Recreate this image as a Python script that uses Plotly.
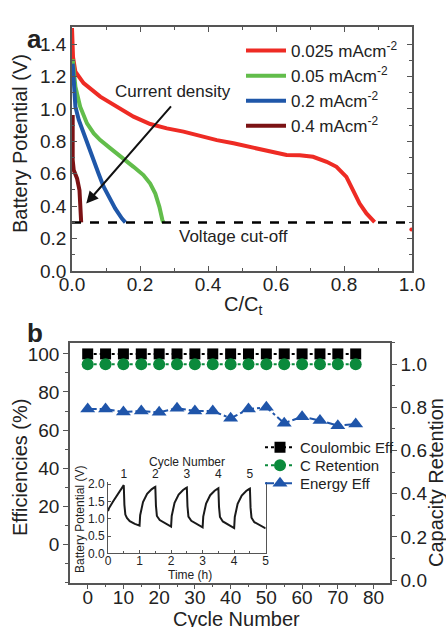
import plotly.graph_objects as go

FONT = "Liberation Sans, Arial, sans-serif"

# ---------------- Panel a data ----------------
red_x = [0.0, 0.003, 0.01, 0.034, 0.083, 0.132, 0.181, 0.23, 0.279, 0.328, 0.377, 0.426, 0.475, 0.524, 0.572, 0.621, 0.631, 0.670, 0.709, 0.749, 0.778, 0.807, 0.827, 0.846, 0.866, 0.890]
red_y = [1.50, 1.32, 1.23, 1.16, 1.076, 1.014, 0.953, 0.907, 0.880, 0.860, 0.833, 0.808, 0.788, 0.767, 0.746, 0.726, 0.716, 0.715, 0.705, 0.674, 0.643, 0.581, 0.499, 0.416, 0.355, 0.302]
red_tail_x = [0.998]
red_tail_y = [0.256]

green_x = [0.002, 0.01, 0.024, 0.044, 0.064, 0.083, 0.113, 0.142, 0.181, 0.21, 0.23, 0.245, 0.257, 0.266, 0.269]
green_y = [1.307, 1.138, 1.014, 0.911, 0.849, 0.808, 0.757, 0.705, 0.643, 0.592, 0.540, 0.478, 0.396, 0.313, 0.300]

blue_x = [0.002, 0.005, 0.01, 0.02, 0.034, 0.049, 0.064, 0.078, 0.093, 0.108, 0.127, 0.147, 0.157]
blue_y = [1.28, 1.138, 1.014, 0.932, 0.849, 0.767, 0.685, 0.602, 0.520, 0.458, 0.386, 0.324, 0.300]

dred_x = [0.002, 0.002, 0.005, 0.015, 0.022, 0.026, 0.027]
dred_y = [0.963, 0.685, 0.623, 0.571, 0.499, 0.396, 0.300]

cutoff_x = [0.0, 1.0]
cutoff_y = [0.3, 0.3]

legend_a = ["0.025 mAcm<sup>-2</sup>", "0.05 mAcm<sup>-2</sup>", "0.2 mAcm<sup>-2</sup>", "0.4 mAcm<sup>-2</sup>"]

# ---------------- Panel b data ----------------
cycles = [0, 5, 10, 15, 20, 25, 30, 35, 40, 45, 50, 55, 60, 65, 70, 75]
coulombic = [100, 100, 100, 100, 100, 100, 100, 100, 100, 100, 100, 100, 100, 100, 100, 100]
c_retention = [1.0, 1.0, 1.0, 1.0, 1.0, 1.0, 1.0, 1.0, 1.0, 1.0, 1.0, 1.0, 1.0, 1.0, 1.0, 1.0]
energy_eff = [71.0, 71.0, 69.5, 70.0, 69.3, 71.5, 70.0, 70.0, 66.2, 71.0, 72.0, 63.6, 67.0, 65.0, 62.3, 63.2]

# Inset data (time in h, potential in V)
inset_t = [0.0, 0.03, 0.16, 0.29, 0.42, 0.48, 0.50, 0.52, 0.55, 0.60, 0.69, 0.85, 0.98,
           1.0, 1.02, 1.11, 1.24, 1.38, 1.48, 1.50, 1.52, 1.55, 1.64, 1.85, 1.98,
           2.0, 2.02, 2.11, 2.24, 2.38, 2.48, 2.50, 2.52, 2.55, 2.64, 2.85, 2.98,
           3.0, 3.02, 3.11, 3.24, 3.38, 3.48, 3.50, 3.52, 3.55, 3.64, 3.85, 3.98,
           4.0, 4.02, 4.11, 4.24, 4.38, 4.48, 4.50, 4.52, 4.55, 4.64, 4.85, 5.0]
inset_v = [1.22, 1.30, 1.50, 1.68, 1.85, 1.93, 1.97, 1.40, 1.12, 1.02, 0.93, 0.85, 0.80,
           0.80, 1.10, 1.48, 1.72, 1.85, 1.91, 1.92, 1.38, 1.08, 0.96, 0.84, 0.77,
           0.77, 1.08, 1.46, 1.70, 1.83, 1.89, 1.90, 1.36, 1.06, 0.94, 0.82, 0.75,
           0.75, 1.06, 1.44, 1.68, 1.81, 1.87, 1.88, 1.34, 1.05, 0.92, 0.80, 0.73,
           0.73, 1.05, 1.43, 1.67, 1.80, 1.86, 1.87, 1.32, 1.03, 0.90, 0.79, 0.72]
inset_top_ticks = [0.5, 1.5, 2.5, 3.5, 4.5]
inset_top_labels = ["1", "2", "3", "4", "5"]

W, H = 446, 627

def px_x(p):
    return p / W

def px_y(p):
    return 1 - p / H

fig = go.Figure()

# Panel a traces
line_w = 4
fig.add_trace(go.Scatter(x=red_x, y=red_y, mode="lines", line=dict(color="#ee2b24", width=line_w),
                         name=legend_a[0], xaxis="x", yaxis="y", legend="legend"))
fig.add_trace(go.Scatter(x=green_x, y=green_y, mode="lines", line=dict(color="#62bd4b", width=line_w),
                         name=legend_a[1], xaxis="x", yaxis="y", legend="legend"))
fig.add_trace(go.Scatter(x=blue_x, y=blue_y, mode="lines", line=dict(color="#1f57a9", width=line_w),
                         name=legend_a[2], xaxis="x", yaxis="y", legend="legend"))
fig.add_trace(go.Scatter(x=dred_x, y=dred_y, mode="lines", line=dict(color="#7b1214", width=line_w),
                         name=legend_a[3], xaxis="x", yaxis="y", legend="legend"))
fig.add_trace(go.Scatter(x=red_tail_x, y=red_tail_y, mode="markers", marker=dict(color="#ee2b24", size=4),
                         showlegend=False, xaxis="x", yaxis="y", cliponaxis=False))
fig.add_trace(go.Scatter(x=cutoff_x, y=cutoff_y, mode="lines", line=dict(color="black", width=2.5, dash="dash"),
                         showlegend=False, xaxis="x", yaxis="y"))

# Panel b traces
fig.add_trace(go.Scatter(x=cycles, y=coulombic, mode="lines+markers", name="Coulombic Eff",
                         line=dict(color="black", width=2, dash="dot"),
                         marker=dict(symbol="square", size=11, color="black"),
                         xaxis="x2", yaxis="y2", legend="legend2", cliponaxis=False))
fig.add_trace(go.Scatter(x=cycles, y=c_retention, mode="lines+markers", name="C Retention",
                         line=dict(color="#0b8a3c", width=2, dash="dot"),
                         marker=dict(symbol="circle", size=12, color="#0b8a3c"),
                         xaxis="x2", yaxis="y3", legend="legend3", cliponaxis=False))
fig.add_trace(go.Scatter(x=cycles, y=energy_eff, mode="lines+markers", name="Energy Eff",
                         line=dict(color="#1f55aa", width=2, dash="dashdot"),
                         marker=dict(symbol="triangle-up", size=13, color="#1f55aa"),
                         xaxis="x2", yaxis="y2", legend="legend4", cliponaxis=False))

# Inset traces
fig.add_trace(go.Scatter(x=inset_t, y=inset_v, mode="lines", line=dict(color="#1a1a1a", width=2),
                         showlegend=False, xaxis="x3", yaxis="y4"))
fig.add_trace(go.Scatter(x=[inset_top_ticks[0]], y=[None], mode="markers", showlegend=False,
                         hoverinfo="skip", xaxis="x4", yaxis="y4"))

tickfont = dict(family=FONT, size=19, color="#222")
TITLE_SIZE = 20
small = dict(family=FONT, size=12, color="#222")

axis_common = dict(showline=True, linecolor="#555", linewidth=1.5, showgrid=False, zeroline=False,
                   tickcolor="#555", ticklen=5, tickwidth=1.2, automargin=False)

def leg(x, y, size, iw=30):
    return dict(x=px_x(x), y=px_y(y), xanchor="left", yanchor="top",
                font=dict(family=FONT, size=size, color="#222"), bgcolor="rgba(0,0,0,0)",
                itemwidth=iw, tracegroupgap=0)

def title_ann(text, x, y, size, angle=0):
    return dict(text=text, x=px_x(x), y=px_y(y), xref="paper", yref="paper", showarrow=False,
                textangle=angle, xanchor="center", yanchor="middle",
                font=dict(family=FONT, size=size, color="#222"))

fig.update_layout(
    width=W, height=H,
    margin=dict(l=0, r=0, t=0, b=0),
    paper_bgcolor="white", plot_bgcolor="white",
    font=dict(family=FONT, color="#222"),
    xaxis=dict(domain=[px_x(72), px_x(412)], range=[0, 1.0], anchor="y",
               tickvals=[0, 0.2, 0.4, 0.6, 0.8, 1.0], ticktext=["0.0", "0.2", "0.4", "0.6", "0.8", "1.0"],
               ticks="inside", mirror="ticks", minor=dict(dtick=0.1, ticks="inside", ticklen=3, tickcolor="#555"),
               tickfont=tickfont, ticklabelstandoff=-5, **axis_common),
    yaxis=dict(domain=[px_y(271), px_y(27)], range=[0, 1.506], anchor="x",
               tickvals=[0, 0.2, 0.4, 0.6, 0.8, 1.0, 1.2, 1.4],
               ticktext=["0.0", "0.2", "0.4", "0.6", "0.8", "1.0", "1.2", "1.4"],
               ticks="inside", mirror="ticks", minor=dict(dtick=0.1, ticks="inside", ticklen=3, tickcolor="#555"),
               tickfont=tickfont, **axis_common),
    xaxis2=dict(domain=[px_x(70), px_x(390)], range=[-4.95, 84.6], anchor="y2",
                tickvals=[0, 10, 20, 30, 40, 50, 60, 70, 80],
                ticks="outside", mirror=True, minor=dict(dtick=5, ticks="outside", ticklen=3, tickcolor="#555"),
                tickfont=tickfont, ticklabelstandoff=-8, **axis_common),
    yaxis2=dict(domain=[px_y(582.7), px_y(342.7)], range=[-20.2, 105.9], anchor="x2",
                tickvals=[0, 20, 40, 60, 80, 100],
                ticks="outside", minor=dict(dtick=10, ticks="outside", ticklen=3, tickcolor="#555"),
                tickfont=tickfont, **axis_common),
    yaxis3=dict(range=[-0.0125, 1.1], overlaying="y2", side="right", anchor="x2",
                tickvals=[0, 0.2, 0.4, 0.6, 0.8, 1.0], ticktext=["0.0", "0.2", "0.4", "0.6", "0.8", "1.0"],
                ticks="outside", minor=dict(dtick=0.1, ticks="outside", ticklen=3, tickcolor="#555"),
                tickfont=tickfont, **axis_common),
    xaxis3=dict(domain=[px_x(108), px_x(265.7)], range=[0, 5], anchor="y4",
                tickvals=[0, 1, 2, 3, 4, 5], ticks="inside", ticklen=3,
                minor=dict(dtick=0.5, ticks="inside", ticklen=2, tickcolor="#555"),
                tickfont=small, ticklabelstandoff=-4,
                showline=True, linecolor="#555", linewidth=1, showgrid=False, zeroline=False,
                tickcolor="#555", automargin=False),
    xaxis4=dict(range=[0, 5], overlaying="x3", side="top", anchor="y4",
                tickvals=inset_top_ticks, ticktext=inset_top_labels, ticks="", showline=False,
                tickfont=small, showgrid=False, zeroline=False, automargin=False),
    yaxis4=dict(domain=[px_y(553.3), px_y(481.7)], range=[0, 2.07], anchor="x3",
                tickvals=[0, 0.5, 1.0, 1.5, 2.0], ticktext=["0.0", "0.5", "1.0", "1.5", "2.0"],
                ticks="inside", ticklen=3, mirror=True,
                tickfont=small,
                showline=True, linecolor="#555", linewidth=1, showgrid=False, zeroline=False,
                tickcolor="#555", automargin=False),
    legend=leg(241, 33, 17, 40),
    legend2=leg(260, 431, 15),
    legend3=leg(260, 449, 15),
    legend4=leg(260, 467, 15),
    annotations=[
        dict(text="<b>a</b>", x=px_x(25), y=px_y(22), xref="paper", yref="paper", showarrow=False,
             font=dict(family=FONT, size=26, color="#222")),
        dict(text="<b>b</b>", x=px_x(25), y=px_y(333), xref="paper", yref="paper", showarrow=False,
             font=dict(family=FONT, size=26, color="#222")),
        # axis titles
        title_ann("Battery Potential (V)", 20, 144, TITLE_SIZE, -90),
        title_ann("C/C<sub>t</sub>", 243, 305, TITLE_SIZE),
        title_ann("Efficiencies (%)", 20, 468, TITLE_SIZE, -90),
        title_ann("Capacity Retention", 436, 483, TITLE_SIZE, -90),
        title_ann("Cycle Number", 236, 619, TITLE_SIZE),
        title_ann("Battery Potential (V)", 80, 520, 12, -90),
        title_ann("Time (h)", 190, 575, 12),
        title_ann("Cycle Number", 187, 462, 12),
        # panel a annotations
        dict(text="Current density", x=0.298, y=1.107, xref="x", yref="y", showarrow=False,
             font=dict(family=FONT, size=17, color="#222")),
        dict(text="Voltage cut-off", x=0.475, y=0.214, xref="x", yref="y", showarrow=False,
             font=dict(family=FONT, size=17, color="#222")),
        dict(text="", x=0.042, y=0.416, ax=0.295, ay=1.025, xref="x", yref="y", axref="x", ayref="y",
             showarrow=True, arrowhead=2, arrowsize=1.2, arrowwidth=2, arrowcolor="#111"),
    ],
)

fig.write_html("out.html", config={"displayModeBar": False},
               post_script="document.body.style.margin='0px';document.body.style.overflow='hidden';")
